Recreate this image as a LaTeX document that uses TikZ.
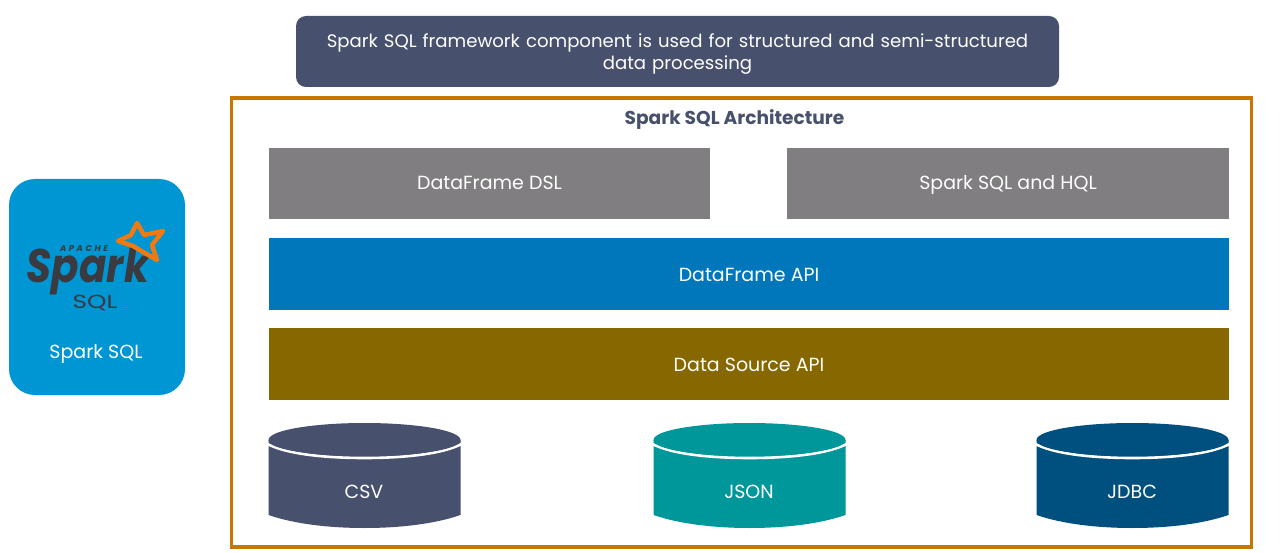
\documentclass[tikz,border=0pt]{standalone}
\usepackage{graphicx}
\usepackage{fontspec}
\setmainfont{Poppins}
\definecolor{slate}{HTML}{47506D}
\definecolor{frameor}{HTML}{C77700}
\definecolor{greybox}{HTML}{807E80}
\definecolor{bluebox}{HTML}{0077BB}
\definecolor{olivebox}{HTML}{866700}
\definecolor{sparkblue}{HTML}{0095D3}
\definecolor{tealc}{HTML}{00979A}
\definecolor{navyc}{HTML}{00507F}
\definecolor{logodark}{HTML}{3A3A40}
\definecolor{logoorange}{HTML}{F07A10}
\tikzset{
  x=1pt,y=-1pt,
  lbl/.style={text=white,font=\fontsize{19}{22}\selectfont,inner sep=0pt,align=center,anchor=base},
  cyl/.pic={
    \fill[#1] (-96,-35) -- (-96,40)
      .. controls (-70,49) and (-35,53) .. (0,53)
      .. controls (35,53) and (70,49) .. (96,40) -- (96,-35) -- cycle;
    \draw[white,line width=2.6pt] (-97,-31) .. controls (-80,-22) and (-45,-17) .. (0,-17)
      .. controls (45,-17) and (80,-22) .. (97,-31);
    \fill[#1] (-96,-35) .. controls (-96,-45) and (-50,-52) .. (0,-52)
      .. controls (50,-52) and (96,-45) .. (96,-35)
      .. controls (96,-25) and (50,-19) .. (0,-19)
      .. controls (-50,-19) and (-96,-25) .. (-96,-35) -- cycle;
  }
}
\begin{document}
\begin{tikzpicture}
\useasboundingbox (0,0) rectangle (1285,553);
\fill[white] (0,0) rectangle (1285,553);
% banner
\node[fill=slate,rounded corners=10pt,minimum width=763pt,minimum height=71pt,inner sep=0pt] (banner) at (677.5,51.5) {};
\node[lbl,anchor=center,font=\fontsize{18.1}{22}\selectfont,text width=740pt] (bannertext) at (677.5,54) {Spark SQL framework component is used for structured and semi-structured\\data processing};
% frame
\node[draw=frameor,line width=3.5pt,minimum width=1020pt,minimum height=449pt,inner sep=0pt] (frame) at (741.5,322.5) {};
\node[text=slate,font=\fontsize{18.6}{22}\selectfont\bfseries,inner sep=0pt,anchor=base] (title) at (734.5,124.5) {Spark SQL Architecture};
% bars
\fill[greybox] (269,148) rectangle (710,219);
\node[lbl] (dsl) at (489.5,190) {DataFrame DSL};
\fill[greybox] (787,148) rectangle (1229,219);
\node[lbl] (hql) at (1008,190) {Spark SQL and HQL};
\fill[bluebox] (269,238) rectangle (1229,310);
\node[lbl] (dfapi) at (749,281.5) {DataFrame API};
\fill[olivebox] (269,328) rectangle (1229,400);
\node[lbl] (dsapi) at (749,371.5) {Data Source API};
% cylinders
\pic at (364.5,475) {cyl=slate};
\node[lbl] (csv) at (364,498.5) {CSV};
\pic at (749.5,475) {cyl=tealc};
\node[lbl] (json) at (749,498.5) {JSON};
\pic at (1132.5,475) {cyl=navyc};
\node[lbl] (jdbc) at (1132,498.5) {JDBC};
% spark tile
\node[fill=sparkblue,rounded corners=26pt,minimum width=176pt,minimum height=216pt,inner sep=0pt] (tile) at (97,287) {};
\node[lbl] (tilelabel) at (96,358.5) {Spark SQL};
\node[text=logodark,font=\fontsize{19}{21}\selectfont,inner sep=0pt,anchor=base] (sql) at (95,308.5) {\scalebox{1.3}[1]{SQL}};
\node[text=logodark,font=\fontsize{47}{50}\selectfont\bfseries\itshape,inner sep=0pt,anchor=base] (spark) at (88,283) {\scalebox{0.86}[1]{Spark}};
\node[text=logodark,font=\fontsize{8.5}{9}\selectfont\bfseries\itshape,inner sep=0pt,anchor=base] (apache) at (84,252) {\addfontfeature{LetterSpace=30}APACHE};
\draw[logoorange,line width=4.5pt,line join=round]
  (137,223) -- (144,235) -- (163,231) -- (152,245) -- (157,260) -- (143,252) -- (133,246) -- (118,241) -- (131,235) -- cycle;
\end{tikzpicture}
\end{document}
